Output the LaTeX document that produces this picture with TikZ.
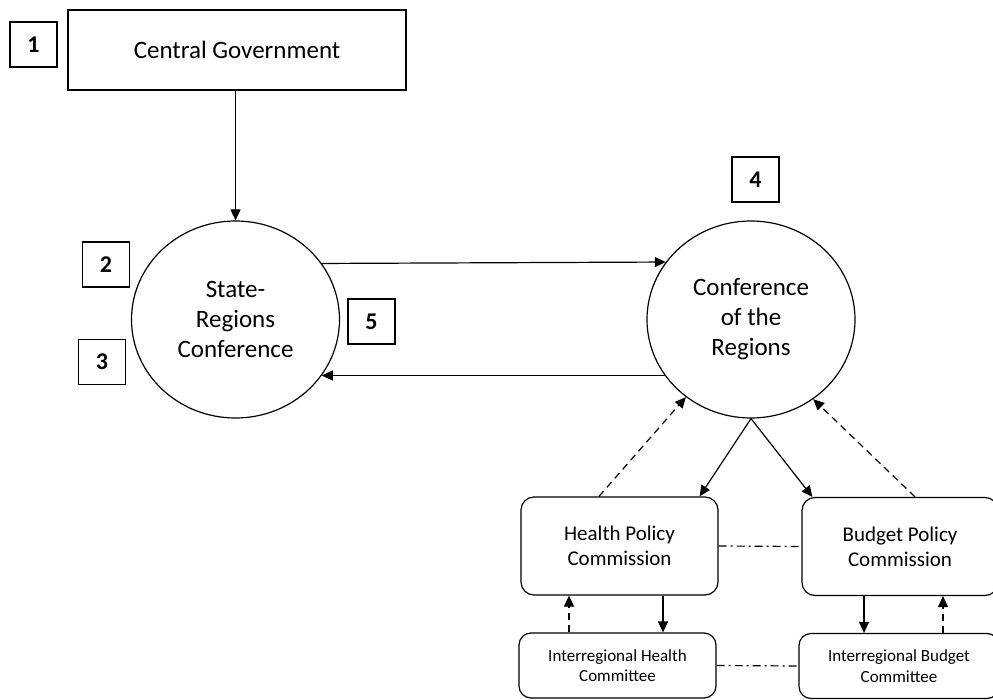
\documentclass[tikz,border=0pt]{standalone}
\usepackage{fontspec}
\setmainfont{Carlito}
\usetikzlibrary{shapes.geometric,arrows.meta}

\begin{document}
\begin{tikzpicture}[x=1pt,y=-1pt,
  line width=1.2pt,
  arr/.style={-{Triangle[length=11pt,width=10pt]}},
  dasharr/.style={arr,dash pattern=on 7pt off 5pt},
  dashdotline/.style={dash pattern=on 8pt off 4pt on 2pt off 4pt},
  numbox/.style={draw,rectangle,minimum width=47pt,minimum height=45pt,inner sep=0pt,
    font=\fontsize{24}{28}\selectfont\bfseries},
  plainbox/.style={draw,rectangle,minimum width=338pt,minimum height=80pt,inner sep=0pt,
    font=\fontsize{25}{30}\selectfont},
  conf/.style={draw,ellipse,minimum width=208pt,minimum height=197pt,inner sep=0pt,
    align=center,font=\fontsize{25}{30}\selectfont},
  commission/.style={draw,rectangle,rounded corners=13pt,minimum height=98pt,inner sep=0pt,
    align=center,font=\fontsize{21}{25}\selectfont},
  committee/.style={draw,rectangle,rounded corners=12pt,minimum height=65pt,inner sep=0pt,
    align=center,font=\fontsize{17}{20.5}\selectfont}
]
\useasboundingbox (0,0) rectangle (993,700);

% top level
\node[plainbox] (cg) at (237,50) {Central Government};
\node[numbox] (n1) at (33.5,44.5) {1};

% the two conferences
\node[conf] (src) at (235.5,319.5) {State-\\Regions\\Conference};
\node[conf] (cor) at (751,319.5) {Conference\\of the\\Regions};

\node[numbox] (n2) at (106,264.5) {2};
\node[numbox] (n3) at (102,362) {3};
\node[numbox] (n5) at (371.5,321.5) {5};
\node[numbox] (n4) at (755.5,179.5) {4};

% commissions and committees
\node[commission,minimum width=197pt] (hpc) at (619.5,546) {Health Policy\\Commission};
\node[commission,minimum width=196pt] (bpc) at (900,546.5) {Budget Policy\\Commission};
\node[committee,minimum width=197pt] (ihc) at (617.5,665.5) {Interregional Health\\Committee};
\node[committee,minimum width=200pt] (ibc) at (899,666) {Interregional Budget\\Committee};

% connectors
\draw[arr] (src.north |- cg.south) -- (src.north);
\draw[arr] (src.33.5) -- (cor.146.5);
\draw[arr] (cor.213.5) -- (src.-33.5);

\draw[arr] (cor.south) -- ([xshift=-19pt]hpc.north east);
\draw[arr] (cor.south) -- ([xshift=11pt]bpc.north west);
\draw[dasharr] ([xshift=-20.5pt]hpc.north) -- (cor.230);
\draw[dasharr] ([xshift=15pt]bpc.north) -- (cor.308);

\draw[dashdotline] (hpc.east) -- (bpc.west);
\draw[dashdotline] (ihc.east) -- (ibc.west);

\coordinate (hdown) at ([xshift=43.5pt]hpc.south);
\coordinate (hup) at ([xshift=-48.5pt]ihc.north);
\coordinate (bdown) at ([xshift=-36pt]bpc.south);
\coordinate (bup) at ([xshift=44pt]ibc.north);
\draw[arr] (hdown) -- (hdown |- ihc.north);
\draw[dasharr] (hup) -- (hup |- hpc.south);
\draw[arr] (bdown) -- (bdown |- ibc.north);
\draw[dasharr] (bup) -- (bup |- bpc.south);
\end{tikzpicture}
\end{document}
